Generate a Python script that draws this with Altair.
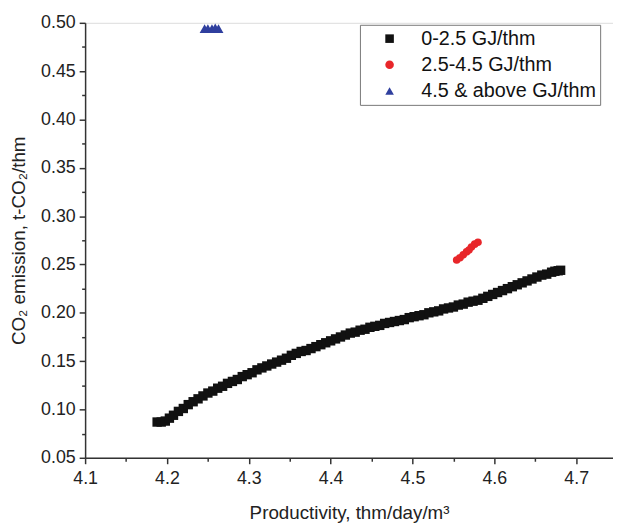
import altair as alt
import pandas as pd

# Series 1: 0-2.5 GJ/thm (black squares)
s1_x = [4.188, 4.193, 4.198, 4.203, 4.208, 4.214, 4.220, 4.226, 4.232, 4.238,
        4.244, 4.250, 4.256, 4.262, 4.268, 4.274, 4.280, 4.286, 4.292, 4.298,
        4.304, 4.310, 4.316, 4.322, 4.328, 4.334, 4.340, 4.346, 4.352, 4.358,
        4.364, 4.370, 4.376, 4.382, 4.388, 4.394, 4.400, 4.406, 4.412, 4.418,
        4.424, 4.430, 4.436, 4.442, 4.448, 4.454, 4.460, 4.466, 4.472, 4.478,
        4.484, 4.490, 4.496, 4.502, 4.508, 4.514, 4.520, 4.526, 4.532, 4.538,
        4.544, 4.550, 4.556, 4.562, 4.568, 4.574, 4.580, 4.586, 4.592, 4.598,
        4.604, 4.610, 4.616, 4.622, 4.628, 4.634, 4.640, 4.646, 4.652, 4.658,
        4.664, 4.670, 4.674, 4.678, 4.681]
s1_y = [0.087, 0.087, 0.088, 0.091, 0.094, 0.098, 0.101, 0.105, 0.108, 0.111,
        0.114, 0.117, 0.119, 0.122, 0.124, 0.127, 0.129, 0.131, 0.134, 0.136,
        0.138, 0.141, 0.143, 0.145, 0.147, 0.149, 0.151, 0.153, 0.156, 0.158,
        0.160, 0.161, 0.163, 0.165, 0.167, 0.169, 0.171, 0.173, 0.175, 0.177,
        0.179, 0.180, 0.182, 0.183, 0.185, 0.186, 0.187, 0.189, 0.190, 0.191,
        0.192, 0.193, 0.195, 0.196, 0.197, 0.198, 0.200, 0.201, 0.202, 0.204,
        0.205, 0.206, 0.208, 0.209, 0.211, 0.212, 0.213, 0.215, 0.217, 0.219,
        0.221, 0.223, 0.225, 0.227, 0.229, 0.231, 0.233, 0.235, 0.237, 0.239,
        0.240, 0.242, 0.243, 0.2435, 0.244]

# Series 2: 2.5-4.5 GJ/thm (red circles)
s2_x = [4.554, 4.558, 4.562, 4.566, 4.569, 4.572, 4.576, 4.580]
s2_y = [0.2546, 0.257, 0.260, 0.263, 0.265, 0.268, 0.271, 0.273]

# Series 3: 4.5 & above GJ/thm (blue triangles)
s3_x = [4.246, 4.250, 4.255, 4.259, 4.263]
s3_y = [0.494, 0.494, 0.494, 0.495, 0.494]

series_names = ["0-2.5 GJ/thm", "2.5-4.5 GJ/thm", "4.5 & above GJ/thm"]
series_colors = ["#111111", "#e8262a", "#2f3f9e"]
series_shapes = ["square", "circle", "triangle-up"]

x_major = [4.1, 4.2, 4.3, 4.4, 4.5, 4.6, 4.7]
x_minor = [4.15, 4.25, 4.35, 4.45, 4.55, 4.65]
y_major = [0.05, 0.10, 0.15, 0.20, 0.25, 0.30, 0.35, 0.40, 0.45, 0.50]
y_minor = [0.075, 0.125, 0.175, 0.225, 0.275, 0.325, 0.375, 0.425, 0.475]

df = pd.concat([
    pd.DataFrame({"x": s1_x, "y": s1_y, "series": series_names[0]}),
    pd.DataFrame({"x": s2_x, "y": s2_y, "series": series_names[1]}),
    pd.DataFrame({"x": s3_x, "y": s3_y, "series": series_names[2]}),
])

xscale = alt.Scale(domain=[4.1, 4.745], nice=False, zero=False)
yscale = alt.Scale(domain=[0.05, 0.5], nice=False, zero=False)

color_enc = alt.Color("series:N", scale=alt.Scale(domain=series_names, range=series_colors),
                      legend=alt.Legend(title=None, orient="none", legendX=278, legendY=2,
                                        strokeColor="#777777",
                                        fillColor="white", padding=4,
                                        labelFontSize=20, labelFont="Liberation Sans",
                                        labelColor="#111111", symbolSize=75,
                                        symbolOffset=16, labelOffset=22, labelLimit=400,
                                        rowPadding=6.5, symbolStrokeWidth=0))
shape_enc = alt.Shape("series:N", scale=alt.Scale(domain=series_names, range=series_shapes),
                      legend=alt.Legend(title=None, orient="none", legendX=278, legendY=2))

axis_common = dict(labelFontSize=18, labelFont="Liberation Sans", labelColor="#222222",
                   titleFontSize=19, titleFont="Liberation Sans", titleFontWeight="normal",
                   titleColor="#222222", domainColor="#333333", domainWidth=1.5,
                   tickColor="#333333", tickWidth=1.5, tickSize=6, grid=False,
                   labelFlush=False)

def layer_for(i, size):
    sub = df[df["series"] == series_names[i]]
    return alt.Chart(sub).mark_point(filled=True, opacity=1, size=size).encode(
        x=alt.X("x:Q", scale=xscale,
                axis=alt.Axis(values=x_major, format=".1f", title="Productivity, thm/day/m³",
                              titlePadding=16, labelPadding=6, **axis_common)),
        y=alt.Y("y:Q", scale=yscale,
                axis=alt.Axis(values=y_major, format=".2f", title="CO₂ emission, t-CO₂/thm",
                              titlePadding=12, labelPadding=4, **axis_common)),
        color=color_enc,
        shape=shape_enc,
    )

main = alt.layer(layer_for(0, 90), layer_for(1, 60), layer_for(2, 100))

minor = alt.Chart(df).mark_point(opacity=0).encode(
    x=alt.X("x:Q", scale=xscale,
            axis=alt.Axis(values=x_minor, labels=False, domain=False, title=None, grid=False,
                          tickSize=3.5, tickWidth=1.5, tickColor="#333333", orient="bottom")),
    y=alt.Y("y:Q", scale=yscale,
            axis=alt.Axis(values=y_minor, labels=False, domain=False, title=None, grid=False,
                          tickSize=3.5, tickWidth=1.5, tickColor="#333333", orient="left")),
)

chart = alt.layer(main, minor).resolve_axis(x="independent", y="independent").properties(
    width=534, height=440,
    autosize=alt.AutoSizeParams(type="none"),
    padding={"left": 78, "top": 12, "right": 0, "bottom": 66},
).configure_view(stroke="transparent").configure(background="white")

chart.save("out.html", embed_options={"renderer": "svg", "actions": False})
